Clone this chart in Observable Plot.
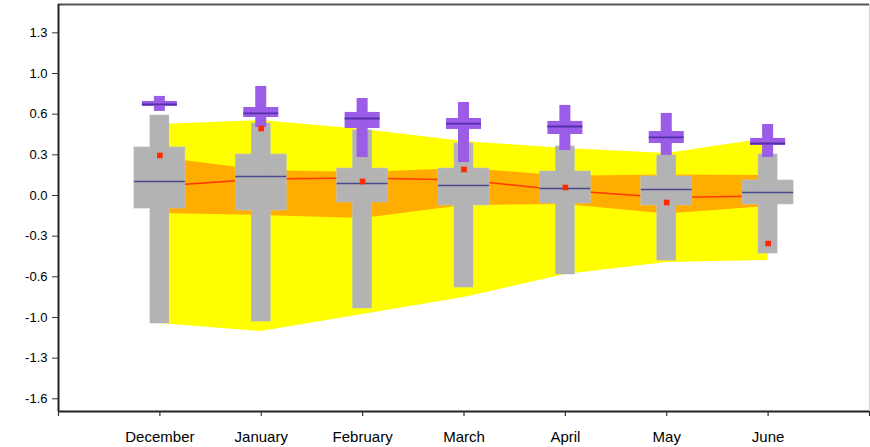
<!DOCTYPE html>
<html>
<head>
<meta charset="utf-8">
<script src="https://cdn.jsdelivr.net/npm/d3@7"></script>
<script src="https://cdn.jsdelivr.net/npm/@observablehq/plot@0.6"></script>
<style>
  html, body { margin: 0; padding: 0; background: #fff; }
  svg { display: block; }
</style>
</head>
<body>
<div id="chart"></div>
<script>
// ---- data ----
const months = ["December", "January", "February", "March", "April", "May", "June"];

// grey distribution (whisker + box + median)
const whiskerHigh = [0.649, 0.584, 0.528, 0.422, 0.398, 0.325, 0.333];
const whiskerLow  = [-1.039, -1.023, -0.917, -0.747, -0.641, -0.528, -0.471];
const boxHigh     = [0.390, 0.333, 0.219, 0.219, 0.195, 0.154, 0.122];
const boxLow      = [-0.106, -0.122, -0.057, -0.081, -0.065, -0.081, -0.073];
const boxMedian   = [0.114, 0.154, 0.097, 0.081, 0.057, 0.049, 0.024];

// red observation squares
const observed = [0.325, 0.544, 0.114, 0.211, 0.065, -0.057, -0.390];

// purple distribution
const purpleHigh    = [0.804, 0.885, 0.787, 0.755, 0.731, 0.666, 0.576];
const purpleLow     = [0.682, 0.552, 0.308, 0.268, 0.365, 0.325, 0.308];
const purpleBoxHigh = [0.763, 0.714, 0.674, 0.625, 0.601, 0.519, 0.463];
const purpleBoxLow  = [0.722, 0.633, 0.544, 0.536, 0.495, 0.422, 0.406];
const purpleMedian  = [0.739, 0.666, 0.625, 0.584, 0.560, 0.471, 0.422];

// shaded bands and red line
const yellowHigh = [0.576, 0.609, 0.536, 0.438, 0.381, 0.341, 0.463];
const yellowLow  = [-1.039, -1.104, -0.966, -0.828, -0.641, -0.544, -0.528];
const orangeHigh = [0.308, 0.203, 0.187, 0.219, 0.157, 0.166, 0.162];
const orangeLow  = [-0.146, -0.162, -0.187, -0.081, -0.073, -0.150, -0.089];
const meanLine   = [0.077, 0.134, 0.142, 0.126, 0.041, -0.016, -0.004];

// y-axis ticks
const yTickValues = [-1.65, -1.32, -0.99, -0.66, -0.33, 0, 0.33, 0.66, 0.99, 1.32];
const yTickLabels = ["-1.6", "-1.3", "-1.0", "-0.6", "-0.3", "0.0", "0.3", "0.6", "1.0", "1.3"];

// ---- build table ----
const rows = months.map((m, i) => ({
  month: m, x: i + 1,
  wHi: whiskerHigh[i], wLo: whiskerLow[i],
  bHi: boxHigh[i], bLo: boxLow[i], med: boxMedian[i],
  obs: observed[i],
  pHi: purpleHigh[i], pLo: purpleLow[i],
  pbHi: purpleBoxHigh[i], pbLo: purpleBoxLow[i], pMed: purpleMedian[i],
  yHi: yellowHigh[i], yLo: yellowLow[i],
  oHi: orangeHigh[i], oLo: orangeLow[i],
  mean: meanLine[i]
}));

const W = 870, H = 447;
const mL = 58, mR = 1, mT = 4, mB = 36;
const unit = (W - mL - mR) / 8;           // px per x unit
const hw = px => px / 2 / unit;           // half width in x units
const yDomain = [-1.753, 1.55];
const yLabelMap = new Map(yTickValues.map((v, i) => [v, yTickLabels[i]]));

const grey = "#b3b3b3";
const purple = "#9b5ce8";

const chart = Plot.plot({
  width: W, height: H,
  marginLeft: mL, marginRight: mR, marginTop: mT, marginBottom: mB,
  style: { fontFamily: "'Liberation Sans', Arial, Helvetica, sans-serif", color: "#000", background: "#fff" },
  x: { domain: [0, 8], axis: null },
  y: { domain: yDomain, axis: null },
  marks: [
    Plot.areaY(rows, { x: "x", y1: "yLo", y2: "yHi", fill: "#ffff00", curve: "linear" }),
    Plot.areaY(rows, { x: "x", y1: "oLo", y2: "oHi", fill: "#ffad00", curve: "linear" }),
    Plot.line(rows, { x: "x", y: "mean", stroke: "#ff3a00", strokeWidth: 1.6 }),
    // grey whiskers and boxes
    Plot.rect(rows, { x1: d => d.x - hw(19), x2: d => d.x + hw(19), y1: "wLo", y2: "wHi", fill: grey, stroke: "#c4c4c4", strokeWidth: 0.6 }),
    Plot.rect(rows, { x1: d => d.x - hw(51), x2: d => d.x + hw(51), y1: "bLo", y2: "bHi", fill: grey, stroke: "#c4c4c4", strokeWidth: 0.6 }),
    Plot.rect(rows, { x1: d => d.x - hw(19) + 0.003, x2: d => d.x + hw(19) - 0.003, y1: "wLo", y2: "wHi", fill: grey }),
    Plot.ruleY(rows, { x1: d => d.x - hw(51), x2: d => d.x + hw(51), y: "med", stroke: "#4a4a8e", strokeWidth: 1.4 }),
    // purple crosses
    Plot.rect(rows, { x1: d => d.x - hw(11), x2: d => d.x + hw(11), y1: "pLo", y2: "pHi", fill: purple }),
    Plot.rect(rows, { x1: d => d.x - hw(35), x2: d => d.x + hw(35), y1: "pbLo", y2: "pbHi", fill: purple }),
    Plot.ruleY(rows, { x1: d => d.x - hw(35), x2: d => d.x + hw(35), y: "pMed", stroke: "#5530a8", strokeWidth: 1.8 }),
    // observations
    Plot.dot(rows, { x: "x", y: "obs", symbol: "square", r: 3.2, fill: "#ff2a00", stroke: "none" }),
    // frame
    Plot.ruleY([yDomain[1]], { stroke: "#555", strokeWidth: 2 }),
    Plot.ruleX([8], { stroke: "#cfcfcf", strokeWidth: 1 }),
    Plot.ruleY([yDomain[0]], { stroke: "#222", strokeWidth: 2 }),
    Plot.ruleX([0], { stroke: "#222", strokeWidth: 2 }),
    // axes
    Plot.axisY(yTickValues, {
      anchor: "left", tickSize: 6, tickPadding: 5, fontSize: 13,
      tickFormat: d => yLabelMap.get(d), stroke: "#333", strokeWidth: 1, label: null
    }),
    Plot.axisX([0, 1, 2, 3, 4, 5, 6, 7, 8], {
      anchor: "bottom", tickSize: 5, tickPadding: 15, fontSize: 15,
      tickFormat: d => months[d - 1] ?? "", stroke: "#333", strokeWidth: 1.2, label: null
    })
  ]
});

document.getElementById("chart").appendChild(chart);
</script>
</body>
</html>
